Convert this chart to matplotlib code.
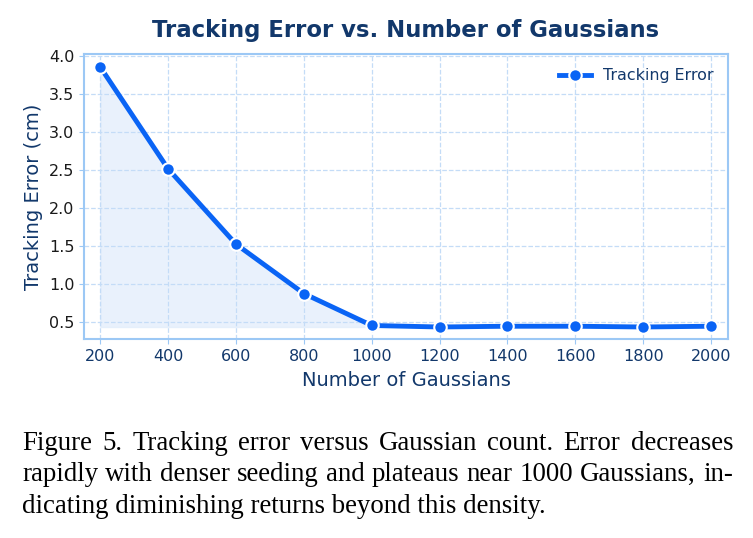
import matplotlib
matplotlib.use("Agg")
import matplotlib.pyplot as plt

# 數據
num_gaussians = [200, 400, 600, 800, 1000, 1200, 1400, 1600, 1800, 2000]
tracking_error = [3.85, 2.51, 1.52, 0.87, 0.45, 0.43, 0.44, 0.44, 0.43, 0.44]
y_ticks = [0.5, 1.0, 1.5, 2.0, 2.5, 3.0, 3.5, 4.0]

caption_lines = [
    "Figure 5.  Tracking error versus Gaussian count.  Error decreases",
    "rapidly with denser seeding and plateaus near 1000 Gaussians, in-",
    "dicating diminishing returns beyond this density.",
]

navy = "#12386b"
line_blue = "#0a64f5"
light_blue = "#9cc8f5"

fig = plt.figure(figsize=(7.53, 5.38), dpi=100)
ax = fig.add_axes([84 / 753, 1 - 339 / 538, 644 / 753, 285 / 538])

# 填充和線
ax.fill_between(num_gaussians, tracking_error, min(tracking_error),
                color="#dbe9fb", alpha=0.6, zorder=1)
ax.plot(num_gaussians, tracking_error, color=line_blue, linewidth=3.5,
        marker="o", markersize=9, markeredgecolor="white", markeredgewidth=1.5,
        label="Tracking Error", zorder=3)

ax.set_xlim(152, 2050)
ax.set_ylim(0.272, 4.022)
ax.set_xticks(num_gaussians)
ax.set_yticks(y_ticks)

ax.grid(True, linestyle="--", color="#c4dcf7", linewidth=0.9)
for spine in ax.spines.values():
    spine.set_color(light_blue)
    spine.set_linewidth(1.5)
ax.tick_params(axis="x", colors=light_blue, labelcolor=navy, labelsize=11.5)
ax.tick_params(axis="y", colors=light_blue, labelcolor="#1a1a1a", labelsize=11.5)

ax.set_title("Tracking Error vs. Number of Gaussians", fontsize=16.4,
             fontweight="bold", color=navy, pad=12)
ax.set_xlabel("Number of Gaussians", fontsize=14, color=navy, labelpad=5)
ax.set_ylabel("Tracking Error (cm)", fontsize=14, color=navy)

leg = ax.legend(loc="upper right", frameon=False, fontsize=11.4)
for t in leg.get_texts():
    t.set_color(navy)

# 圖說 (兩端對齊)
fig.canvas.draw()
renderer = fig.canvas.get_renderer()
left_px, right_px = 22, 733
line_y = [450, 481, 513]
cap_size = 19.4
for i, line in enumerate(caption_lines):
    words = line.split()
    y = 1 - line_y[i] / 538
    if i == len(caption_lines) - 1:
        fig.text(left_px / 753, y, line, fontsize=cap_size,
                 family="Liberation Serif", va="baseline", ha="left")
        continue
    texts = [fig.text(0, y, w, fontsize=cap_size, family="Liberation Serif",
                      va="baseline", ha="left") for w in words]
    widths = [t.get_window_extent(renderer).width for t in texts]
    gap = (right_px - left_px - sum(widths)) / (len(words) - 1)
    x = left_px
    for t, w in zip(texts, widths):
        t.set_x(x / 753)
        x += w + gap

fig.savefig("out.png", dpi=100)
